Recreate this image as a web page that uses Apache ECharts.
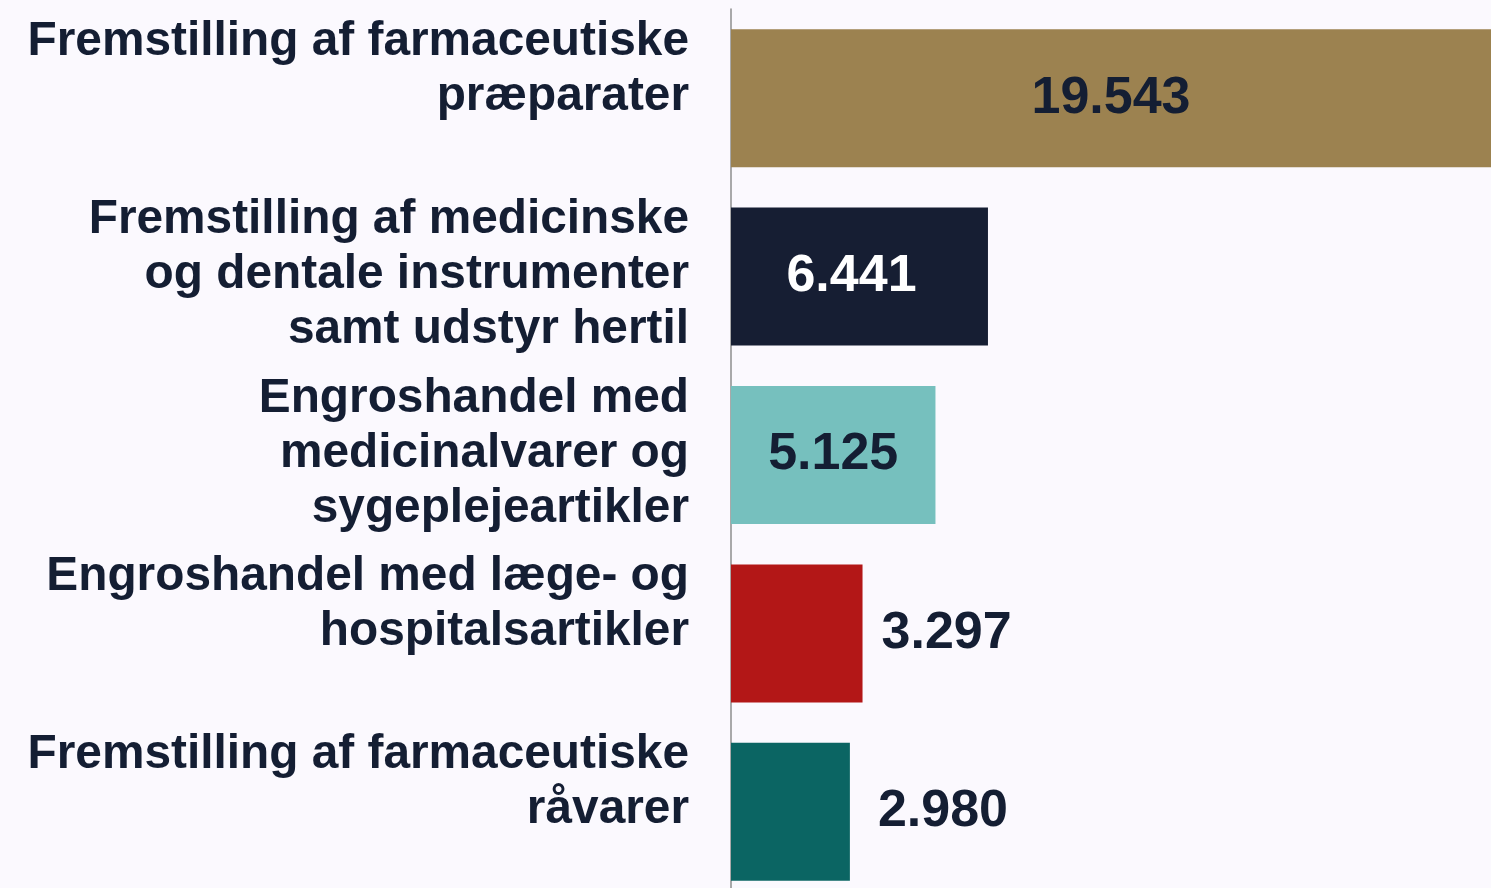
<!DOCTYPE html>
<html>
<head>
    <meta charset="utf-8">
    <title>Bar chart</title>
    <script src="https://cdn.jsdelivr.net/npm/echarts@6/dist/echarts.min.js"></script>
    <style>
        html, body { margin: 0; padding: 0; background: #fbf9fe; overflow: hidden; }
    </style>
</head>
<body>
<!-- taller than the window so the last band can run past the bottom edge -->
<div id="main" style="width: 1491px;height:920px;"></div>
<script type="text/javascript">
    // categories (top to bottom)
    var categories = [
        'Fremstilling af farmaceutiske\npræparater',
        'Fremstilling af medicinske\nog dentale instrumenter\nsamt udstyr hertil',
        'Engroshandel med\nmedicinalvarer og\nsygeplejeartikler',
        'Engroshandel med læge- og\nhospitalsartikler',
        'Fremstilling af farmaceutiske\nråvarer'
    ];
    var values = [19543, 6441, 5125, 3297, 2980];
    var barColors = ['#9c8250', '#161e33', '#76c0be', '#b31717', '#0b6563'];
    var labelColors = ['#141e33', '#ffffff', '#141e33', '#141e33', '#141e33'];
    var labelPos = ['inside', 'inside', 'inside', 'right', 'right'];
    var labelDist = [0, 0, 0, 19, 28];
    var labelShift = [0, -8, 0, 0, 0];

    var seriesData = values.map(function (v, i) {
        return {
            value: v,
            itemStyle: { color: barColors[i] },
            label: {
                position: labelPos[i],
                color: labelColors[i],
                distance: labelDist[i],
                offset: [labelShift[i], 0]
            }
        };
    });

    var myChart = echarts.init(document.getElementById('main'));
    var option = {
        backgroundColor: '#fbf9fe',
        animation: false,
        grid: { left: 731, right: 0, top: 9, height: 892 },
        xAxis: {
            type: 'value',
            min: 0,
            max: 19050,
            show: false
        },
        yAxis: {
            type: 'category',
            inverse: true,
            data: categories,
            axisLine: { show: true, lineStyle: { color: '#8e8e8e', width: 1.5 } },
            axisTick: { show: false },
            axisLabel: {
                interval: 0,
                margin: 42,
                fontFamily: 'Liberation Sans, Arial, sans-serif',
                fontWeight: 'bold',
                fontSize: 47.8,
                lineHeight: 55,
                color: '#141e33',
                align: 'right',
                verticalAlign: 'top',
                padding: [-84, 0, 0, 0]
            }
        },
        series: [{
            type: 'bar',
            barWidth: 138,
            clip: true,
            data: seriesData,
            label: {
                show: true,
                fontFamily: 'Liberation Sans, Arial, sans-serif',
                fontWeight: 'bold',
                fontSize: 52,
                formatter: function (p) {
                    return String(p.value).replace(/\B(?=(\d{3})+(?!\d))/g, '.');
                }
            }
        }]
    };
    myChart.setOption(option);
</script>
</body>
</html>
